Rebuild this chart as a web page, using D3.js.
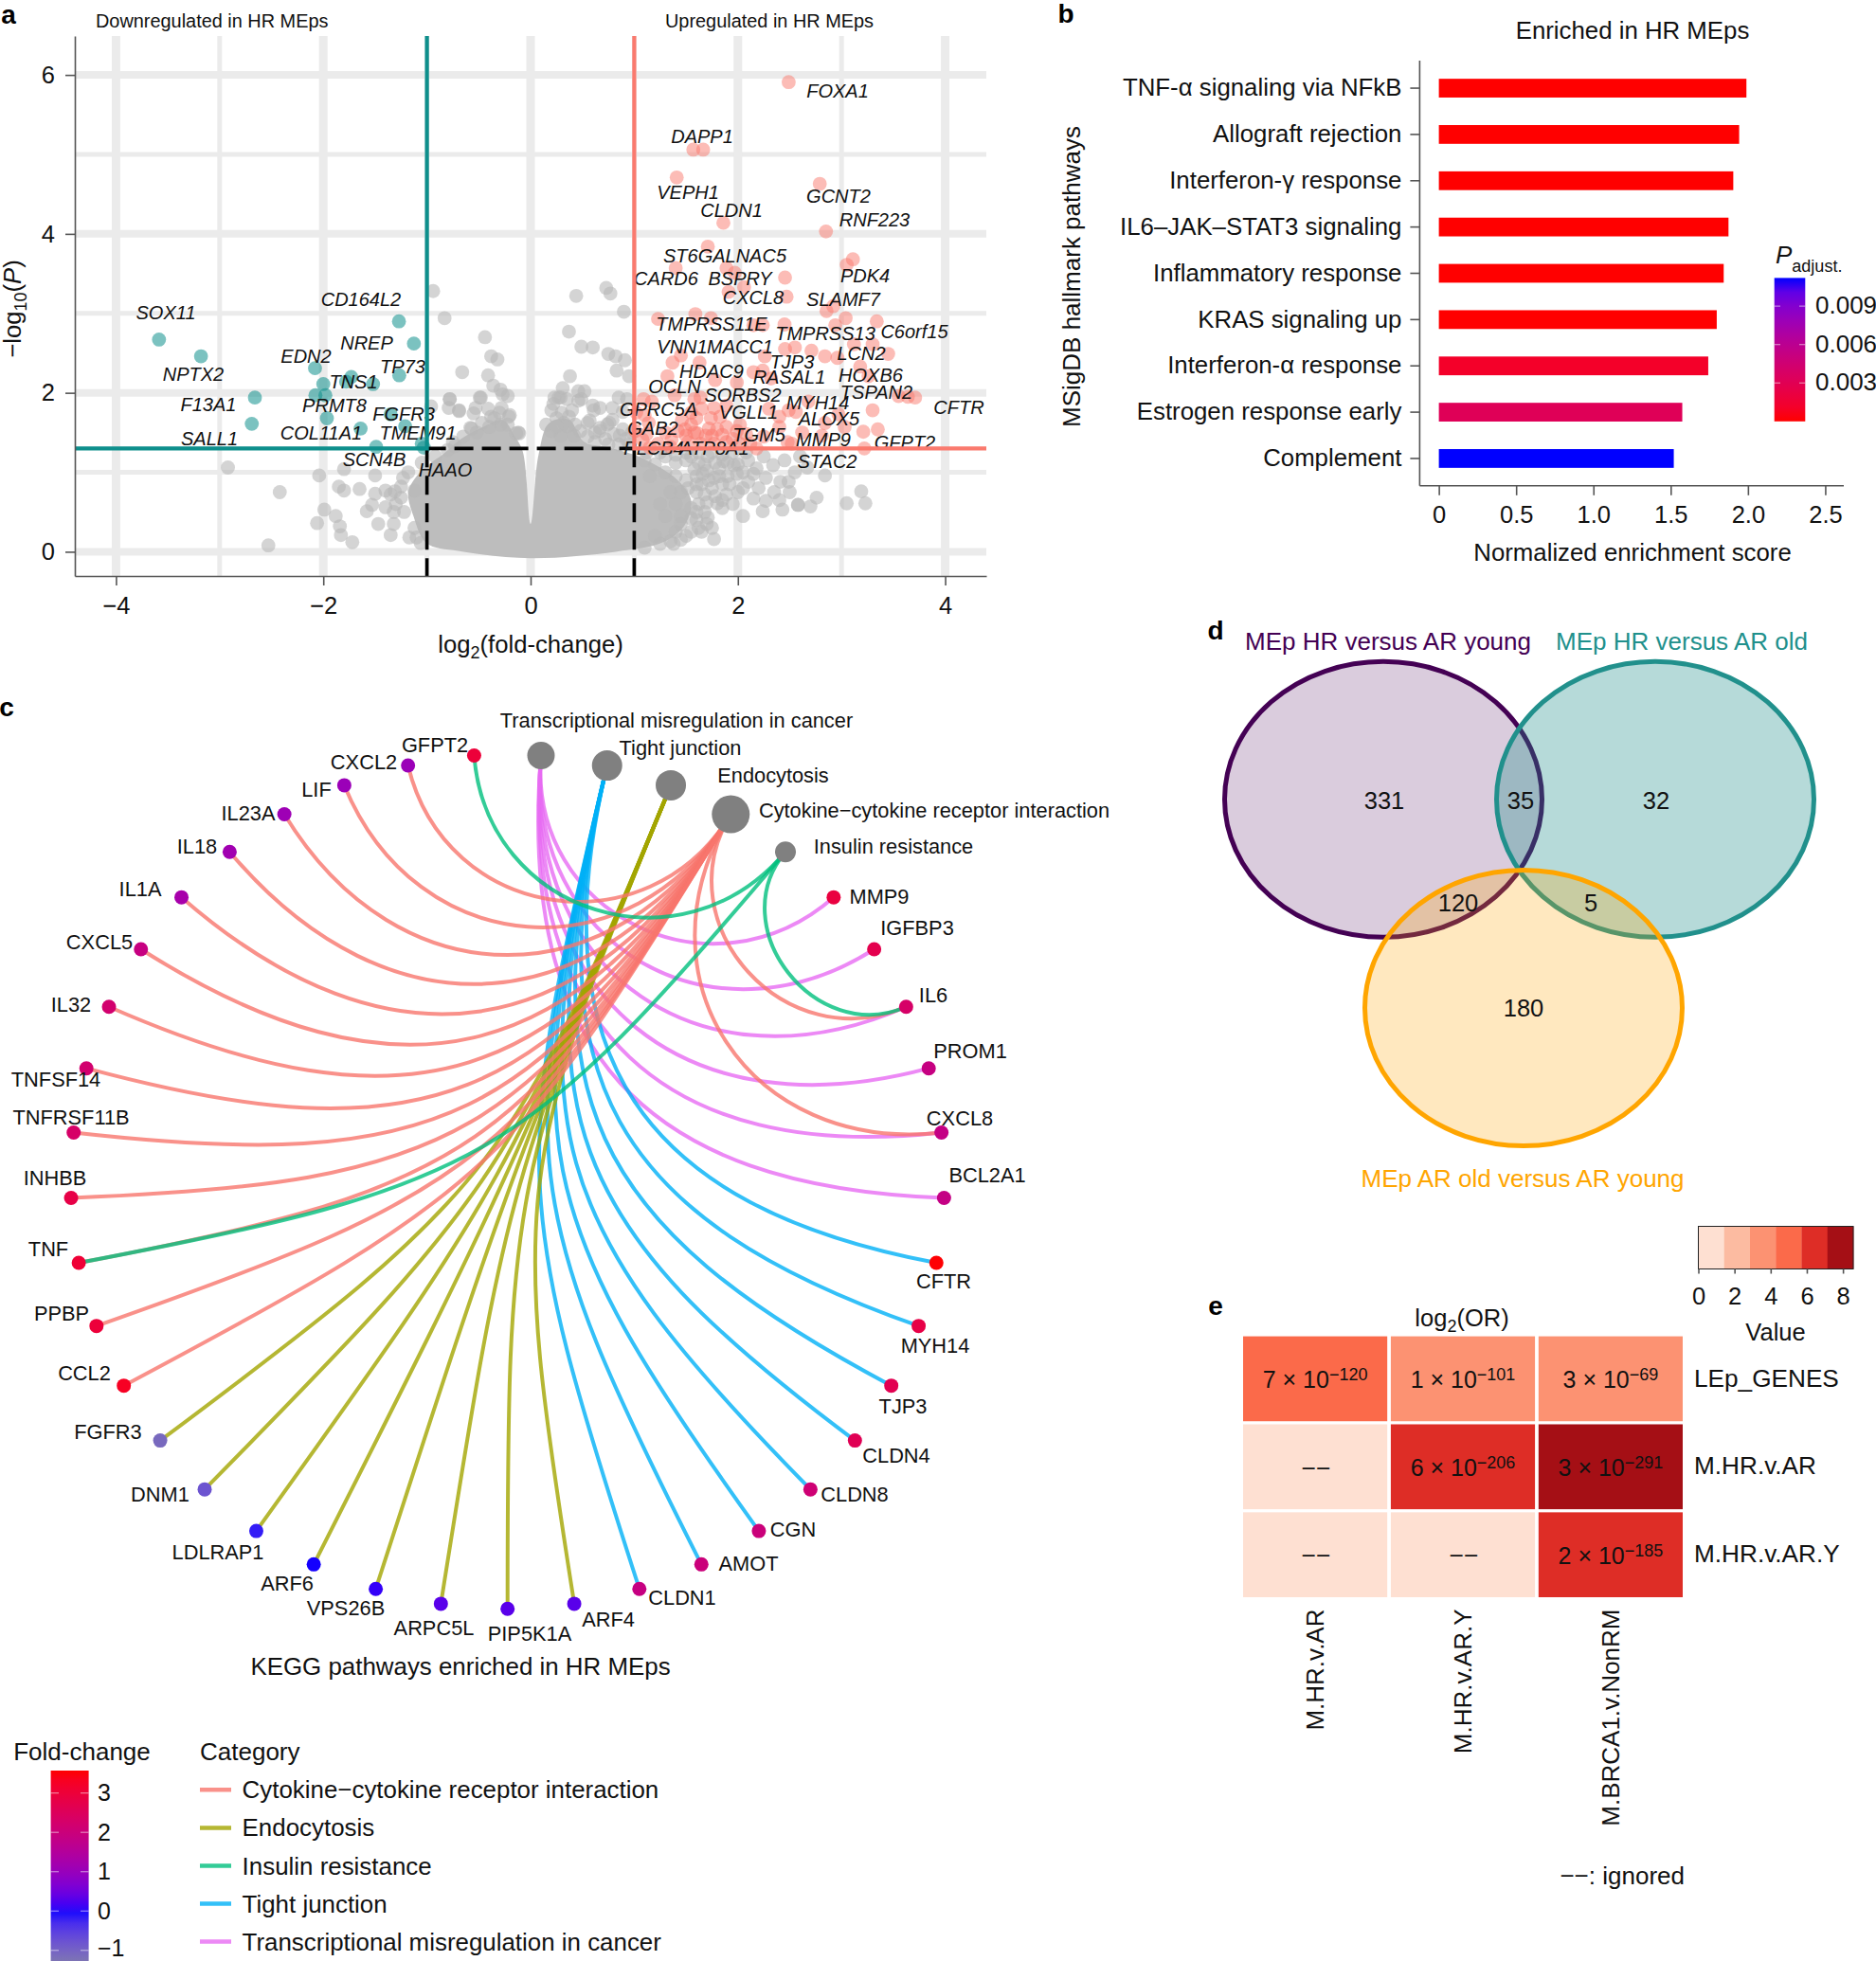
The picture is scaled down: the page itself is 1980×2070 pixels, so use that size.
<!DOCTYPE html>
<html>
<head>
<meta charset="utf-8">
<title>HR MEps</title>
<script src="https://cdnjs.cloudflare.com/ajax/libs/d3/7.8.5/d3.min.js"></script>
<style>
body { margin: 0; background: #fff; }
text { font-family: "Liberation Sans", Arial, sans-serif; fill: #111; }
</style>
</head>
<body>
<svg width="1980" height="2070"></svg>
<script>
// ---- panel a: volcano, [log2FC, -log10P]
var volcanoDown = [[-3.585,2.67],[-3.18,2.46],[-2.66,1.94],[-2.69,1.61],[-1.27,2.9],[-1.126,2.62],[-2.08,2.31],[-1.267,2.22],
    [-1.73,2.2],[-2,2.11],[-1.78,2.14],[-1.52,2.11],[-2.076,1.97],[-1.98,1.97],[-1.965,1.68],[-1.35,1.73],[-1.21,1.58],
    [-1.64,1.55],[-1.49,1.32],[-1.05,1.36],[-1.03,1.31]];
var volcanoUp = [[2.49,5.91],[1.57,5.06],[1.665,5.06],[1.41,4.71],[2.79,4.63],[1.86,4.14],[2.85,4.03],[1.71,3.84],[3.11,3.68],
    [3.05,3.61],[1.4,3.57],[1.89,3.57],[1.97,3.51],[2.455,3.45],[2.06,3.33],[1.91,3.27],[2.47,3.21],[2.855,3.03],[2.92,3.09],
    [3.04,2.94],[1.59,2.99],[1.74,2.94],[1.23,2.93],[2.45,2.86],[3.34,2.9],[2.24,2.85],[2.15,2.85],[2.94,2.85],[3.12,2.61],
    [3.3,2.61],[2.55,2.57],[2.455,2.55],[2.71,2.53],[2.84,2.46],[2.96,2.44],[3.45,2.49],[1.45,2.47],[1.37,2.38],[2.26,2.46],
    [1.63,2.38],[3.18,2.33],[2.24,2.28],[2.15,2.26],[3.26,2.21],[1.32,2.21],[1.78,2.16],[1.99,2.13],[2.32,2.18],[3.55,1.96],
    [3.64,1.95],[3.71,1.94],[3.3,1.78],[3.35,1.54],[3.21,1.51],[3.22,1.3],[3.03,1.57],[1.39,1.97],[1.09,1.92],[1.17,1.89],
    [1.58,1.92],[1.64,1.94],[1.77,1.81],[1.89,1.84],[2.4,1.7],[2.49,1.78],[2.56,1.76],[2.68,1.89],[2.84,1.62],[2.97,1.73],
    [1.55,1.6],[1.49,1.54],[1.42,1.52],[1.61,1.49],[1.69,1.46],[1.8,1.54],[1.89,1.57],[2.02,1.6],[1.74,1.68],[1.83,1.7],
    [1.99,1.52],[2.12,1.36],[2.18,1.3],[2.4,1.57],[2.48,1.38],[2.52,1.36],[2.81,1.46],[1.14,1.62],[1.01,1.52],[1.08,1.41],
    [1.23,1.36],[1.36,1.41],[1.52,1.38],[1.64,1.36],[1.77,1.36],[1.89,1.38],[2.02,1.36],[1.02,1.75],[1.1,1.72],[1.55,1.75],
    [1.65,1.8],[1.3,1.5],[1.95,1.42],[2.25,1.45],[2.62,1.5],[2.3,1.8],[1.46,1.66],[1.58,1.5],[1.72,1.55],[1.6,1.68],[1.12,1.48],
    [1.75,1.46],[1.85,1.47],[2.08,1.48],[1.5,1.46],[1.35,1.32],[1.15,1.31]];
var volcanoNs = [[0.44,3.22],[0.73,3.32],[0.77,3.25],[0.9,3.02],[0.37,2.77],[0.49,2.58],[0.6,2.57],[0.75,2.49],[0.82,2.46],
    [0.91,2.41],[0.83,2.28],[0.38,2.21],[0.31,2.06],[0.23,1.94],[0.29,1.94],[0.46,2.02],[0.49,1.92],[0.6,1.84],[0.67,1.81],
    [0.79,1.81],[0.89,1.76],[0.95,2.21],[0.93,1.92],[0.76,1.62],[0.57,1.65],[0.32,1.62],[0.2,1.52],[0.29,1.46],[0.42,1.46],
    [0.67,1.52],[0.86,1.46],[0.89,1.54],[-0.14,1.49],[-0.94,3.28],[-0.83,2.94],[-0.44,2.7],[-0.38,2.46],[-0.32,2.42],
    [-0.66,2.26],[-0.41,2.22],[-0.36,2.09],[-0.29,2.04],[-0.22,1.96],[-0.48,1.94],[-0.78,1.92],[-0.79,1.81],[-0.69,1.77],
    [-0.53,1.81],[-0.28,1.81],[-0.21,1.7],[-0.57,1.55],[-0.4,1.57],[-0.11,1.49],[-0.29,1.6],[-0.73,1.33],[-0.96,1.83],
    [-2.92,1.06],[-2.04,0.96],[-2.42,0.75],[-1.85,0.82],[-1.8,0.77],[-1.8,1.04],[-1.65,0.79],[-1.5,0.96],[-1.5,0.73],
    [-1.4,0.77],[-1.31,0.76],[-1.99,0.53],[-2.06,0.36],[-1.88,0.45],[-1.84,0.32],[-1.83,0.21],[-1.72,0.12],[-2.53,0.08],
    [-1.53,0.59],[-1.58,0.51],[-1.47,0.35],[-1.4,0.56],[-1.32,0.35],[-1.35,0.21],[-1.17,0.18],[-1.06,0.11],[-1.23,0.93],
    [-1.12,0.77],[3.19,0.76],[3.23,0.61],[3.05,0.61],[2.76,0.68],[2.7,0.57],[2.58,0.59],[2.58,0.59],[2.43,0.53],[2.4,0.65],
    [2.84,0.96],[2.67,1.06],[2.49,0.88],[2.41,0.88],[2.27,0.64],[2.24,0.51],[2.15,0.67],[1.77,0.16],[1.71,0.43],[1.8,0.61],
    [1.89,0.72],[1.96,1.09],[2.08,1.25],[1.99,0.98],[2.15,0.98],[2.27,0.93],[2.34,1.09],[1.58,1.04],[1.77,0.93],[1.86,1.14],
    [1.71,1.2],[1.45,0.35],[1.52,0.8],[1.65,0.85],[1.85,0.85],[2.05,0.8],[1.4,1.12],[1.3,1.2],[1.62,0.6],[1.5,0.2],[1.25,0.1],
    // crowded stretch right of the cut-off
    [1.1,1.15],[1.2,1.1],[1.3,1.0],[1.15,0.95],[1.4,0.95],[1.5,0.9],[1.6,0.95],[1.7,1.02],[1.45,0.75],[1.6,0.75],[1.75,0.8],
    [1.9,0.95],[2.0,1.1],[2.1,1.15],[1.4,0.6],[1.55,0.55],[1.7,0.62],[1.85,0.55],[1.95,0.6],[2.0,0.75],[1.3,0.45],[1.45,0.45],
    [1.6,0.4],[1.75,0.3],[1.4,0.25],[1.55,0.25],[1.2,0.2],[1.35,0.13],[1.1,0.05],[2.05,0.45],[2.2,0.8],[2.35,0.75],[2.5,0.75],
    [2.55,1.0],[2.45,1.15],[2.6,1.2],[2.25,1.2],[1.95,1.25],[1.5,1.15],[1.62,1.12],[1.82,1.05],[1.35,0.75],[1.25,0.6],[1.65,0.25],
    [1.55,1.2],[1.68,1.1],[1.78,1.12],[1.9,1.12],[1.66,0.98],[1.72,0.9],[1.82,0.95],[1.92,0.85],[1.6,0.85],[1.68,0.72],[1.78,0.7],
    [1.85,0.65],[2.1,0.88],[2.18,1.05],[2.05,1.0],[1.6,0.5],[1.68,0.5],[1.55,0.42],[1.7,0.35],[1.62,0.3],[1.45,0.15],[1.38,0.1],
    [1.5,1.25],[1.62,1.25],[1.75,1.25],[1.85,1.22],[1.4,1.22],[1.25,1.25],[1.12,1.25],
    // bumps above the solid part
    [0.27,1.94],[0.46,1.9],[0.52,2.02],[0.61,1.78],[0.67,1.56],[0.74,1.6],[0.79,1.66],[0.85,1.94],[0.2,1.78],[0.37,1.7],[0.25,1.68],
    [0.43,1.6],[0.55,1.45],[0.72,1.42],[0.85,1.35],[0.95,1.35],[0.15,1.6],[0.3,1.75],[0.35,1.92],[0.4,1.78],[0.22,1.86],
    [0.55,1.62],[0.62,1.5],[0.8,1.48],[0.75,1.35],[0.62,1.38],[0.48,1.52],[0.35,1.58],[0.25,1.58],[0.92,1.42],[0.98,1.5],
    [-0.49,1.94],[-0.69,1.78],[-0.78,1.92],[-0.55,1.74],[-0.41,1.8],[-0.58,1.56],[-0.2,1.72],[-0.27,1.98],[-0.12,1.5],
    [-0.35,1.68],[-0.3,1.75],[-0.47,1.62],[-0.65,1.45],[-0.8,1.28],[-0.92,1.2],[-1.05,1.12],[-1.18,1.0],[-1.25,0.68],[-1.22,0.5],
    [-1.3,0.6],[-1.25,0.82],[-1.12,0.3],[-1.1,0.18],[-0.38,1.7],[-0.22,1.6],[-0.52,1.5],[-0.75,1.38],[-1.35,0.72],[-1.32,0.5]];
// outline of the solid part of the cloud, single points can't be told apart there
var volcanoCore = [[-1.005,0.11],[-1.13,0.45],[-1.18,0.75],[-1.1,0.95],[-0.98,1.1],[-0.85,1.22],[-0.67,1.42],[-0.46,1.57],
    [-0.27,1.66],[-0.155,1.46],[-0.075,1.26],[0,0.35],[0.077,1.22],[0.18,1.62],[0.37,1.66],[0.52,1.38],[0.73,1.32],[1,1.22],
    [1.22,1.08],[1.42,0.9],[1.55,0.64],[1.48,0.32],[1.28,0.12],[0.82,0],[0,-0.08],[-0.7,0.01]];
var volcanoGenes = ["SOX11","NPTX2","F13A1","SALL1","CD164L2","NREP","EDN2","TP73","TNS1","PRMT8","FGFR3","COL11A1","TMEM91",
    "SCN4B","HAAO","FOXA1","DAPP1","VEPH1","CLDN1","GCNT2","RNF223","ST6GALNAC5","CARD6","BSPRY","PDK4","CXCL8","SLAMF7",
    "TMPRSS11E","TMPRSS13","C6orf15","VNN1","MACC1","TJP3","LCN2","HDAC9","RASAL1","HOXB6","OCLN","SORBS2","TSPAN2","GPRC5A",
    "MYH14","CFTR","VGLL1","ALOX5","GAB2","TGM5","MMP9","GFPT2","PLCB4","ATP8A1","STAC2"];
// repelled label spots in page pixels, same order as volcanoGenes
var volcanoLabelXY = [[175,330],[204,395],[220,427],[221,463],[381,316],[387,362],[323,376],[425,387],[373,403],[353,428],[426,437],
    [339,457],[441,457],[395,485],[470,496],[884,96],[741,144],[726,203],[772,222],[885,207],[923,232],[765,270],[703,294],[781,294],
    [913,291],[795,314],[890,316],[751,342],[871,352],[965,350],[720,366],[781,366],[836,382],[909,373],[751,392],[833,398],[919,396],
    [712,408],[784,417],[925,414],[695,432],[863,425],[1012,430],[790,435],[875,442],[689,452],[801,459],[869,464],[955,467],[690,473],
    [754,473],[873,487]];

// ---- panel b
var pathways = ["TNF-\u03b1 signaling via NFkB","Allograft rejection","Interferon-\u03b3 response","IL6\u2013JAK\u2013STAT3 signaling",
    "Inflammatory response","KRAS signaling up","Interferon-\u03b1 response","Estrogen response early","Complement"];
var nes = [1.99,1.943,1.905,1.874,1.843,1.798,1.743,1.575,1.52];
var padj = [0,0,0,0,0,0,0.0011,0.0032,0.0112];
var nesTicks = [0,0.5,1,1.5,2,2.5];
var nesTickLabels = ["0","0.5","1.0","1.5","2.0","2.5"];
var padjTicks = [0.003,0.006,0.009];

// ---- panel c: nodes round the circle, starting at the bottom going clockwise
var cnetNodes = ["PIP5K1A","ARPC5L","VPS26B","ARF6","LDLRAP1","DNM1","FGFR3","CCL2","PPBP","TNF","INHBB","TNFRSF11B","TNFSF14",
    "IL32","CXCL5","IL1A","IL18","IL23A","LIF","CXCL2","GFPT2",
    "Transcriptional misregulation in cancer","Tight junction","Endocytosis","Cytokine\u2212cytokine receptor interaction","Insulin resistance",
    "MMP9","IGFBP3","IL6","PROM1","CXCL8","BCL2A1","CFTR","MYH14","TJP3","CLDN4","CLDN8","CGN","AMOT","CLDN1","ARF4"];
var cnetFC = [0.3,0.3,0.1,0.02,-0.15,-0.8,-1.1,3.3,3.0,3.05,2.8,2.3,2.2,2.2,1.9,1.25,1.15,1.1,1.05,1.05,3.0,
    null,null,null,null,null,2.9,2.7,2.3,1.9,1.85,1.85,3.55,2.8,2.65,2.6,2.1,2.0,2.0,1.9,0.3];
var categories = ["Cytokine\u2212cytokine receptor interaction","Endocytosis","Insulin resistance","Tight junction","Transcriptional misregulation in cancer"];
var categoryColors = ["#F8766D","#A3A500","#00BF7D","#00B0F6","#E76BF3"];
var categorySize = [20,16,11,16,14.5];
var cytokineGenes = ["CXCL2","LIF","IL23A","IL18","IL1A","CXCL5","IL32","TNFSF14","TNFRSF11B","INHBB","TNF","PPBP","CCL2","IL6","CXCL8"];
var endocytosisGenes = ["FGFR3","DNM1","LDLRAP1","ARF6","VPS26B","ARPC5L","PIP5K1A","ARF4"];
var insulinGenes = ["GFPT2","TNF","IL6"];
var tightGenes = ["CLDN1","AMOT","CGN","CLDN8","CLDN4","TJP3","MYH14","CFTR"];
var transcriptionGenes = ["MMP9","IGFBP3","IL6","PROM1","CXCL8","BCL2A1"];
var fcTicks = [3,2,1,0,-1];
// ggrepel spots of the labels, page pixels, same order as cnetNodes
var cnetLabelXY = [[559,1724],[458,1718],[365,1697],[303,1671],[230,1638],[169,1577],[114,1511],[89,1449],[65,1386],[51,1318],[58,1243],
    [75,1179],[59,1139],[75,1060],[105,994],[148,938],[208,893],[262,858],[334,833],[384,804],[459,786],
    [714,760],[718,789],[816,818],[986,855],[943,893],
    [928,946],[968,979],[985,1050],[1024,1109],[1013,1180],[1042,1240],[996,1352],[987,1420],[953,1484],[946,1536],[902,1577],[837,1614],[790,1650],[720,1686],[642,1709]];

// ---- panel d
var vennNames = ["MEp HR versus AR young","MEp HR versus AR old","MEp AR old versus AR young"];
var vennCounts = [331,35,32,120,5,180];

// ---- panel e
var heatRows = ["LEp_GENES","M.HR.v.AR","M.HR.v.AR.Y"];
var heatCols = ["M.HR.v.AR","M.HR.v.AR.Y","M.BRCA1.v.NonRM"];
var heatValues = [[5,3.6,3.6],[0,6.5,8],[0,0,6.5]];
var heatMantissa = [["7","1","3"],["","6","3"],["","","2"]];
var heatExponent = [["\u2212120","\u2212101","\u221269"],["","\u2212206","\u2212291"],["","","\u2212185"]];
var orTicks = [0,2,4,6,8];
var redBins = ["#fee0d2","#fcbba1","#fc9272","#fb6a4a","#de2d26","#a50f15"];

var svg = d3.select("svg");
var AXIS = "#555";

function label(x, y, str, size, anchor) {
    return svg.append("text").attr("x", x).attr("y", y).attr("dy", "0.35em")
        .attr("text-anchor", anchor || "middle").style("font-size", size + "px").text(str);
}

// panel letters
[["a",9,15],["b",1125,14],["c",7,746],["d",1283,665],["e",1283,1378]].forEach(function(d) {
    label(d[1], d[2], d[0], 28, "middle").style("font-weight", "bold").style("fill", "#000");
});

function styleAxis(g) {
    g.select(".domain").attr("stroke", AXIS).attr("stroke-width", 1.6);
    g.selectAll(".tick line").attr("stroke", AXIS).attr("stroke-width", 1.6);
    g.selectAll(".tick text").style("font-family", '"Liberation Sans"').style("fill", "#111");
}

// ------ a ------
(function() {
    var x = d3.scaleLinear().domain([-4.397, 4.397]).range([79, 1041]);
    var y = d3.scaleLinear().domain([-0.305, 6.49]).range([608, 38]);
    var grid = svg.append("g").attr("stroke", "#ebebeb");

    [-3,-1,1,3].forEach(function(v) { grid.append("line").attr("x1", x(v)).attr("x2", x(v)).attr("y1", 38).attr("y2", 608).attr("stroke-width", 5); });
    [1,3,5].forEach(function(v) { grid.append("line").attr("y1", y(v)).attr("y2", y(v)).attr("x1", 79).attr("x2", 1041).attr("stroke-width", 5); });
    [-4,-2,0,2,4].forEach(function(v) { grid.append("line").attr("x1", x(v)).attr("x2", x(v)).attr("y1", 38).attr("y2", 608).attr("stroke-width", 9); });
    [0,2,4,6].forEach(function(v) { grid.append("line").attr("y1", y(v)).attr("y2", y(v)).attr("x1", 79).attr("x2", 1041).attr("stroke-width", 8); });

    var core = d3.line().curve(d3.curveCatmullRomClosed)
        .x(function(d) { return x(d[0]); })
        .y(function(d) { return y(d[1]); });
    svg.append("path").attr("d", core(volcanoCore)).attr("fill", "#bdbdbd");

    function dots(data, color, op) {
        svg.append("g").selectAll("circle").data(data).enter().append("circle")
            .attr("cx", function(d) { return x(d[0]); })
            .attr("cy", function(d) { return y(d[1]); })
            .attr("r", 7.4)
            .attr("fill", color)
            .attr("fill-opacity", op);
    }
    dots(volcanoNs, "#b8b8b8", 0.6);
    dots(volcanoDown, "#0e8f8c", 0.55);
    dots(volcanoUp, "#fa7a6e", 0.5);

    // dashed box between the cut-offs
    var dash = svg.append("g").attr("stroke", "#000").attr("stroke-width", 3.6).attr("stroke-dasharray", "20 9");
    dash.append("line").attr("x1", x(-1)).attr("x2", x(1)).attr("y1", y(1.3)).attr("y2", y(1.3));
    dash.append("line").attr("x1", x(-1)).attr("x2", x(-1)).attr("y1", y(1.3)).attr("y2", 608);
    dash.append("line").attr("x1", x(1)).attr("x2", x(1)).attr("y1", y(1.3)).attr("y2", 608);

    volcanoGenes.forEach(function(g, i) {
        label(volcanoLabelXY[i][0], volcanoLabelXY[i][1], g, 20).style("font-style", "italic");
    });

    svg.append("path").attr("fill", "none").attr("stroke", "#0e8f8c").attr("stroke-width", 4.2)
        .attr("d", d3.line()([[x.range()[0], y(1.3)], [x(-1), y(1.3)], [x(-1), 38]]));
    svg.append("path").attr("fill", "none").attr("stroke", "#fa7a6e").attr("stroke-width", 4.2)
        .attr("d", d3.line()([[x.range()[1], y(1.3)], [x(1), y(1.3)], [x(1), 38]]));

    var ax = svg.append("g").attr("transform", "translate(0,608)")
        .call(d3.axisBottom(x).tickValues([-4,-2,0,2,4]).tickSize(10).tickSizeOuter(0).tickPadding(12).tickFormat(function(d) { return d < 0 ? "\u2212" + (-d) : d; }));
    ax.style("font-size", "25.5px");
    styleAxis(ax);
    var ay = svg.append("g").attr("transform", "translate(79,0)")
        .call(d3.axisLeft(y).tickValues([0,2,4,6]).tickSize(10).tickSizeOuter(0).tickPadding(11).tickFormat(d3.format("d")));
    ay.style("font-size", "25.5px");
    styleAxis(ay);

    var xt = label(560, 680, "log", 25.7);
    xt.append("tspan").attr("dy", 6).style("font-size", "18px").text("2");
    xt.append("tspan").attr("dy", -6).text("(fold-change)");

    var yt = svg.append("text").attr("transform", "translate(22,326) rotate(-90)").attr("text-anchor", "middle").style("font-size", "25.7px").text("\u2212log");
    yt.append("tspan").attr("dy", 6).style("font-size", "18px").text("10");
    yt.append("tspan").attr("dy", -6).text("(");
    yt.append("tspan").style("font-style", "italic").text("P");
    yt.append("tspan").text(")");

    label(101, 22, "Downregulated in HR MEps", 19.9, "start");
    label(702, 22, "Upregulated in HR MEps", 19.9, "start");
})();

// ------ b ------
(function() {
    var x = d3.scaleLinear().domain([-0.124, 2.62]).range([1498.4, 1946]);
    var y = d3.scaleBand().domain(pathways).range([68.5, 508.5]).paddingInner(0.595).paddingOuter(0.3);
    var color = d3.scaleLinear().domain([0, 0.0112]).range(["red", "blue"]).interpolate(d3.interpolateLab);

    svg.append("g").selectAll("rect").data(pathways).enter().append("rect")
        .attr("x", x(0))
        .attr("y", function(d) { return y(d); })
        .attr("height", y.bandwidth())
        .attr("width", function(d, i) { return x(nes[i]) - x(0); })
        .attr("fill", function(d, i) { return color(padj[i]); });

    var ax = svg.append("g").attr("transform", "translate(0,512.8)")
        .call(d3.axisBottom(x).tickValues(nesTicks).tickSize(10).tickSizeOuter(0).tickPadding(11)
            .tickFormat(function(d, i) { return nesTickLabels[i]; }));
    ax.style("font-size", "25.5px");
    styleAxis(ax);
    ax.select(".domain").attr("d", "M1498.4,0H1946");
    var ay = svg.append("g").attr("transform", "translate(1498.4,0)")
        .call(d3.axisLeft(y).tickSize(10).tickPadding(9));
    ay.style("font-size", "25.8px");
    styleAxis(ay);
    ay.select(".domain").attr("d", "M0,64V512.8");

    label(1723, 32, "Enriched in HR MEps", 25.8);
    label(1723, 582.5, "Normalized enrichment score", 25.8);
    svg.append("text").attr("transform", "translate(1131,292) rotate(-90)").attr("dy", "0.35em").attr("text-anchor", "middle")
        .style("font-size", "26px").text("MSigDB hallmark pathways");

    // colour bar
    var barY = d3.scaleLinear().domain([0, 0.0112]).range([444.8, 293.4]);
    var defs = svg.append("defs");
    var grad = defs.append("linearGradient").attr("id", "padjGrad").attr("x1", 0).attr("x2", 0).attr("y1", 1).attr("y2", 0);
    d3.range(0, 1.01, 0.1).forEach(function(t) {
        grad.append("stop").attr("offset", t).attr("stop-color", color(t * 0.0112));
    });
    svg.append("rect").attr("x", 1872.7).attr("y", 293.4).attr("width", 32.6).attr("height", 151.4).attr("fill", "url(#padjGrad)");
    padjTicks.forEach(function(t) {
        [[1872.7, 1879], [1899, 1905.3]].forEach(function(p) {
            svg.append("line").attr("x1", p[0]).attr("x2", p[1]).attr("y1", barY(t)).attr("y2", barY(t))
                .attr("stroke", "#fff").attr("stroke-opacity", 0.5).attr("stroke-width", 1.2);
        });
        label(1916, barY(t) - 1, d3.format(".3f")(t), 26, "start");
    });
    var pl = label(1874, 269, "P", 26, "start").style("font-style", "italic");
    pl.append("tspan").attr("dy", 9).style("font-size", "18px").style("font-style", "normal").text("adjust.");
})();

// ------ c ------
(function() {
    var sx = d3.scaleLinear().domain([-1, 1]).range([74.7, 996.7]);
    var sy = d3.scaleLinear().domain([-1, 1]).range([796.2, 1698.2]);
    var fc = d3.scaleLinear().domain([-1.27, 0, 3.57]).range(["#7d74b4", "blue", "red"]).interpolate(d3.interpolateLab);
    var step = d3.scaleLinear().domain([0, cnetNodes.length]).range([0, 2 * Math.PI]);

    var nodes = cnetNodes.map(function(name, i) {
        return { name: name, fc: cnetFC[i], ux: -Math.sin(step(i)), uy: Math.cos(step(i)) };
    });
    var byName = {};
    nodes.forEach(function(n) { byName[n.name] = n; });

    // same shape as ggraph's circular arcs, control points pulled to the centre by chord length
    function arc(a, b) {
        var k = Math.hypot(a.ux - b.ux, a.uy - b.uy) / 2;
        var p = d3.path();
        p.moveTo(sx(a.ux), sy(a.uy));
        p.bezierCurveTo(sx(a.ux * (1 - k)), sy(a.uy * (1 - k)), sx(b.ux * (1 - k)), sy(b.uy * (1 - k)), sx(b.ux), sy(b.uy));
        return p.toString();
    }

    [[4, transcriptionGenes], [3, tightGenes], [1, endocytosisGenes], [0, cytokineGenes], [2, insulinGenes]].forEach(function(set) {
        var cat = byName[categories[set[0]]];
        svg.append("g").selectAll("path").data(set[1]).enter().append("path")
            .attr("d", function(g) { return arc(cat, byName[g]); })
            .attr("fill", "none")
            .attr("stroke", categoryColors[set[0]])
            .attr("stroke-opacity", 0.8)
            .attr("stroke-width", 4);
    });

    svg.append("g").selectAll("circle").data(nodes).enter().append("circle")
        .attr("cx", function(d) { return sx(d.ux); })
        .attr("cy", function(d) { return sy(d.uy); })
        .attr("r", function(d) { return d.fc === null ? categorySize[categories.indexOf(d.name)] : 7.5; })
        .attr("fill", function(d) { return d.fc === null ? "#808080" : fc(d.fc); });

    cnetNodes.forEach(function(n, i) {
        label(cnetLabelXY[i][0], cnetLabelXY[i][1], n, 21.8);
    });

    label(486, 1759, "KEGG pathways enriched in HR MEps", 25.9);
    label(86.5, 1849, "Fold-change", 26);
    label(211, 1849, "Category", 26, "start");

    // legends
    var barY = d3.scaleLinear().domain([3.57, -1.27]).range([1869, 2070]);
    var grad = svg.append("defs").append("linearGradient").attr("id", "fcGrad").attr("x1", 0).attr("x2", 0).attr("y1", 1).attr("y2", 0);
    d3.range(0, 1.001, 0.05).forEach(function(t) {
        grad.append("stop").attr("offset", t).attr("stop-color", fc(-1.27 + t * 4.84));
    });
    svg.append("rect").attr("x", 53.6).attr("y", 1869).attr("width", 40).attr("height", 201).attr("fill", "url(#fcGrad)");
    fcTicks.forEach(function(t) {
        [[53.6, 62], [85, 93.6]].forEach(function(p) {
            svg.append("line").attr("x1", p[0]).attr("x2", p[1]).attr("y1", barY(t)).attr("y2", barY(t))
                .attr("stroke", "#fff").attr("stroke-opacity", 0.5).attr("stroke-width", 1.2);
        });
        label(103, barY(t) - (t < 0 ? 3 : 0), t < 0 ? "\u2212" + (-t) : t, 25, "start");
    });

    var keyY = d3.scalePoint().domain(categories).range([1889.3, 2049.6]);
    categories.forEach(function(c, i) {
        svg.append("line").attr("x1", 211).attr("x2", 244).attr("y1", keyY(c)).attr("y2", keyY(c))
            .attr("stroke", categoryColors[i]).attr("stroke-opacity", 0.8).attr("stroke-width", 4.5);
        label(255.6, keyY(c), c, 25.9, "start");
    });
})();

// ------ d ------
(function() {
    var vennColors = ["#440154", "#21908C", "#FFA500"];
    var vennOpacity = [0.2, 0.33, 0.25];
    var vennCx = [1460, 1747, 1608];
    var vennCy = [843.8, 843.8, 1064];
    var titleXY = [[1465, 677], [1775, 677], [1607, 1244]];
    var countXY = [[1461, 845], [1605, 845], [1748, 845], [1539, 953], [1679, 953], [1608, 1064]];

    vennNames.forEach(function(n, i) {
        svg.append("ellipse")
            .attr("cx", vennCx[i]).attr("cy", vennCy[i]).attr("rx", 167.5).attr("ry", 145.5)
            .attr("fill", vennColors[i]).attr("fill-opacity", vennOpacity[i])
            .attr("stroke", vennColors[i]).attr("stroke-width", 5);
        label(titleXY[i][0], titleXY[i][1], n, 26).style("fill", vennColors[i]);
    });
    vennCounts.forEach(function(c, i) {
        label(countXY[i][0], countXY[i][1], c, 25.5);
    });
})();

// ------ e ------
(function() {
    var x = d3.scaleBand().domain(heatCols).range([1312, 1776]).paddingInner(0.024);
    var y = d3.scaleBand().domain(heatRows).range([1410.6, 1686]).paddingInner(0.035);
    var col = d3.scaleQuantize().domain([0, 8.57]).range(redBins);

    heatRows.forEach(function(r, i) {
        heatCols.forEach(function(c, j) {
            svg.append("rect").attr("x", x(c)).attr("y", y(r))
                .attr("width", x.bandwidth()).attr("height", y.bandwidth())
                .attr("fill", col(heatValues[i][j]));
            var cx = x(c) + x.bandwidth() / 2, cy = y(r) + y.bandwidth() / 2;
            if (heatMantissa[i][j]) {
                var t = label(cx, cy + 1, heatMantissa[i][j] + " \u00d7 10", 25);
                t.append("tspan").attr("dy", -8).style("font-size", "18px").text(heatExponent[i][j]);
            } else {
                label(cx + 1, cy + 1, "\u2212\u2212", 26.5);
            }
        });
        label(1788, y(r) + y.bandwidth() / 2 - 1, r, 26.2, "start");
    });
    heatCols.forEach(function(c) {
        svg.append("text").attr("transform", "translate(" + (x(c) + x.bandwidth() / 2) + ",1698.5) rotate(-90)")
            .attr("dy", "0.35em").attr("text-anchor", "end").style("font-size", "26px").text(c);
    });

    var t = label(1543, 1391, "log", 25.5);
    t.append("tspan").attr("dy", 6).style("font-size", "18px").text("2");
    t.append("tspan").attr("dy", -6).text("(OR)");
    label(1778, 1980, "\u2212\u2212: ignored", 26, "end");

    // binned colour key
    var kx = d3.scaleLinear().domain([0, 8.57]).range([1792.5, 1956]);
    svg.append("g").selectAll("rect").data(redBins).enter().append("rect")
        .attr("x", function(d, i) { return kx(i * 8.57 / 6); })
        .attr("y", 1294.5)
        .attr("width", kx(8.57 / 6) - kx(0) + 0.3)
        .attr("height", 45)
        .attr("fill", function(d) { return d; });
    svg.append("rect").attr("x", 1792.5).attr("y", 1294.5).attr("width", 163.5).attr("height", 45)
        .attr("fill", "none").attr("stroke", "#222").attr("stroke-width", 1);
    var ak = svg.append("g").attr("transform", "translate(0,1339.5)")
        .call(d3.axisBottom(kx).tickValues(orTicks).tickSize(5).tickSizeOuter(0).tickPadding(14));
    ak.style("font-size", "25.5px");
    styleAxis(ak);
    ak.select(".domain").remove();
    label(1874, 1406, "Value", 25.5);
})();
</script>
</body>
</html>
